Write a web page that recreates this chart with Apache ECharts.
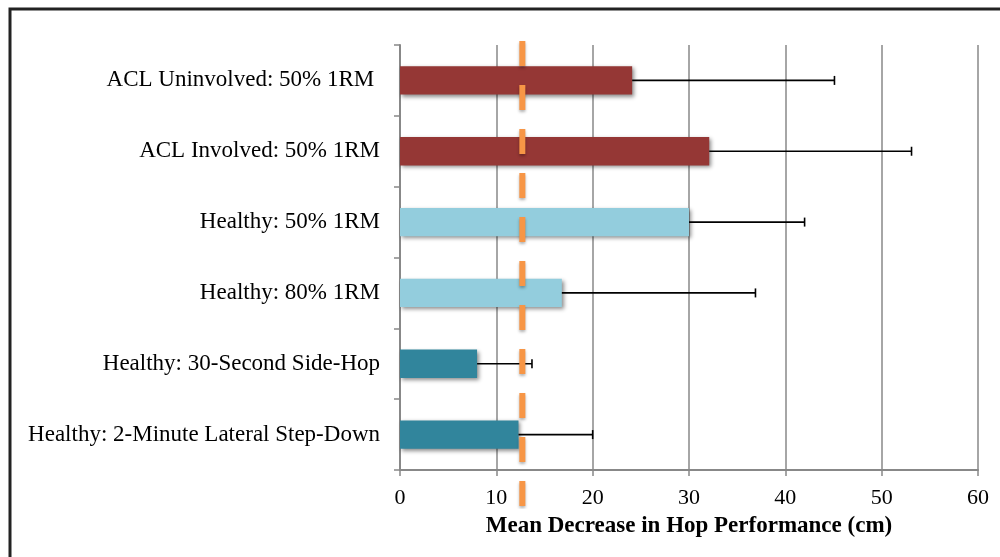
<!DOCTYPE html>
<html lang="en">
<head>
    <meta charset="UTF-8">
    <title>Mean Decrease in Hop Performance</title>
    <script src="https://cdn.jsdelivr.net/npm/echarts@6.0.0/dist/echarts.min.js"></script>
    <style>
        html, body { margin: 0; padding: 0; background: #fff; }
        #main { width: 1000px; height: 557px; }
    </style>
</head>
<body>
    <div id="main"></div>
    <script>
        // data, top to bottom
        var categories = [
            'ACL Uninvolved: 50% 1RM ',
            'ACL Involved: 50% 1RM',
            'Healthy: 50% 1RM',
            'Healthy: 80% 1RM',
            'Healthy: 30-Second Side-Hop',
            'Healthy: 2-Minute Lateral Step-Down'
        ];
        var means = [24.1, 32.1, 30.0, 16.8, 8.0, 12.3];
        var errorEnds = [45.1, 53.1, 42.0, 36.9, 13.7, 20.0];
        var referenceLine = 12.7;
        var xTicks = [0, 10, 20, 30, 40, 50, 60];

        var barColors = ['#953735', '#953735', '#93CDDD', '#93CDDD', '#31859C', '#31859C'];
        var font = '"Liberation Serif", "Times New Roman", serif';

        var chart = echarts.init(document.getElementById('main'));

        var option = {
            animation: false,
            backgroundColor: '#fff',
            graphic: [{
                type: 'rect',
                shape: { x: 10, y: 9, width: 1000, height: 600 },
                style: { fill: 'none', stroke: '#222', lineWidth: 3 },
                silent: true
            }],
            grid: [
                { left: 400, right: 22, top: 45, bottom: 87 },
                { left: 400, right: 22, top: 41, bottom: 51 }
            ],
            xAxis: [{
                type: 'value',
                gridIndex: 0,
                min: xTicks[0],
                max: xTicks[xTicks.length - 1],
                interval: 10,
                axisLine: { show: true, lineStyle: { color: '#888', width: 2 } },
                axisTick: { show: true, length: 6, lineStyle: { color: '#888', width: 1.5 } },
                splitLine: { show: true, lineStyle: { color: '#888', width: 1.5 } },
                axisLabel: { margin: 17, color: '#000', fontFamily: font, fontSize: 22 },
                name: 'Mean Decrease in Hop Performance (cm)',
                nameLocation: 'middle',
                nameGap: 45,
                nameTextStyle: { color: '#000', fontFamily: font, fontSize: 23, fontWeight: 'bold' }
            }, {
                type: 'value',
                gridIndex: 1,
                min: xTicks[0],
                max: xTicks[xTicks.length - 1],
                show: false
            }],
            yAxis: [{
                type: 'category',
                gridIndex: 0,
                data: categories,
                inverse: true,
                axisLine: { show: true, lineStyle: { color: '#888', width: 2 } },
                axisTick: { show: true, length: 6, lineStyle: { color: '#888', width: 1.5 } },
                axisLabel: { margin: 20, color: '#000', fontFamily: font, fontSize: 23 }
            }, {
                type: 'value',
                gridIndex: 1,
                min: 0,
                max: 1,
                show: false
            }],
            series: [{
                type: 'bar',
                xAxisIndex: 0,
                yAxisIndex: 0,
                barWidth: '40%',
                data: means.map(function (v, i) {
                    return {
                        value: v,
                        itemStyle: {
                            color: barColors[i],
                            shadowColor: 'rgba(0,0,0,0.45)',
                            shadowBlur: 4,
                            shadowOffsetX: 2,
                            shadowOffsetY: 2
                        }
                    };
                }),
                z: 2
            }, {
                type: 'custom',
                xAxisIndex: 0,
                yAxisIndex: 0,
                data: categories.map(function (c, i) { return [means[i], errorEnds[i], i]; }),
                encode: { x: [0, 1], y: 2 },
                renderItem: function (params, api) {
                    var start = api.coord([api.value(0), api.value(2)]);
                    var end = api.coord([api.value(1), api.value(2)]);
                    var cap = 4.5;
                    var style = { stroke: '#000', lineWidth: 1.6 };
                    return {
                        type: 'group',
                        children: [{
                            type: 'line',
                            shape: { x1: start[0], y1: start[1], x2: end[0], y2: end[1] },
                            style: style
                        }, {
                            type: 'line',
                            shape: { x1: end[0], y1: end[1] - cap, x2: end[0], y2: end[1] + cap },
                            style: style
                        }]
                    };
                },
                z: 3
            }, {
                type: 'line',
                xAxisIndex: 1,
                yAxisIndex: 1,
                data: [[referenceLine, 1], [referenceLine, 0]],
                symbol: 'none',
                silent: true,
                lineStyle: {
                    color: '#F79646',
                    width: 6,
                    type: [25, 19],
                    shadowColor: 'rgba(0,0,0,0.3)',
                    shadowBlur: 3,
                    shadowOffsetY: 2
                },
                z: 5
            }]
        };

        chart.setOption(option);
    </script>
</body>
</html>
